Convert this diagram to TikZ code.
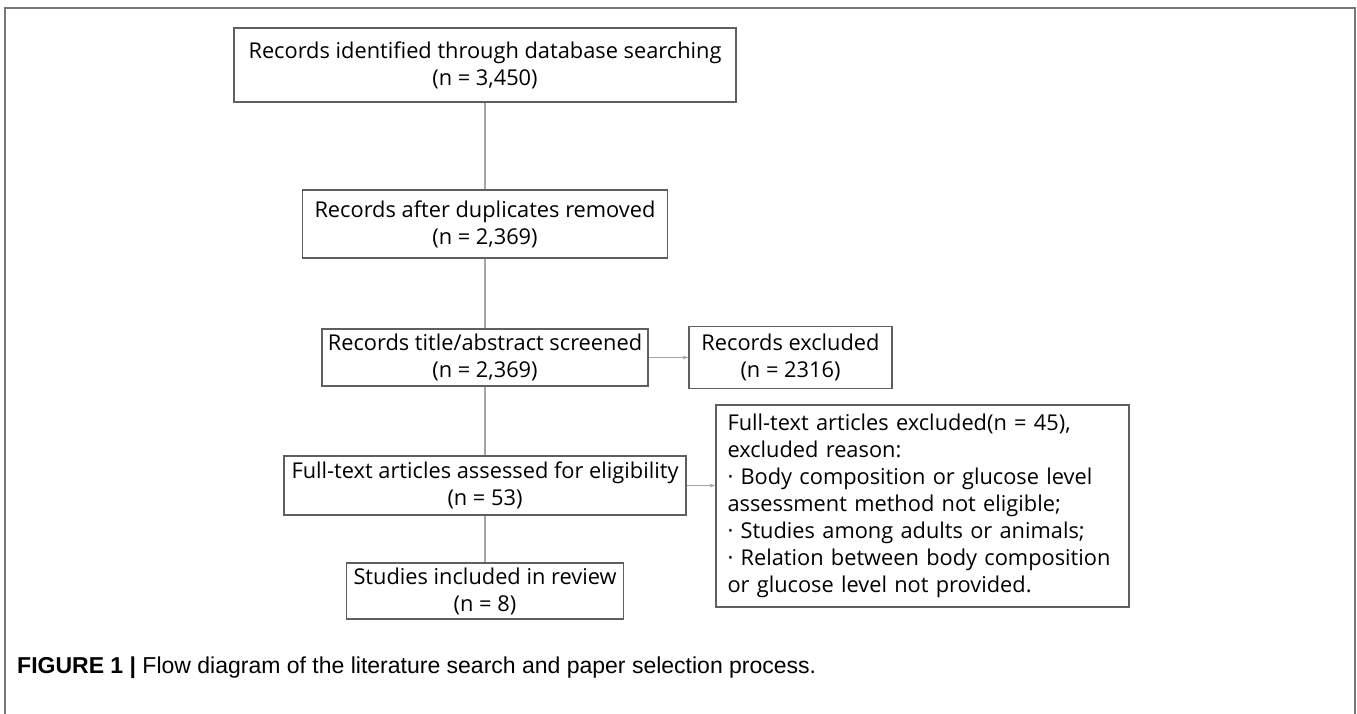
\documentclass[tikz,border=0pt]{standalone}
\usepackage{fontspec}
\setmainfont{Open Sans}
\newfontfamily\capfont{Liberation Sans}
\usetikzlibrary{positioning, arrows.meta}
\definecolor{boxline}{RGB}{95,95,95}
\definecolor{linkgray}{RGB}{165,165,165}
\definecolor{framegray}{RGB}{120,120,120}
\tikzset{
    flowbox/.style={rectangle, draw=boxline, line width=1.2pt, fill=white, align=center, inner sep=0pt, font=\fontsize{21.8}{27}\selectfont},
    notebox/.style={rectangle, draw=boxline, line width=1.2pt, fill=white, align=left, inner xsep=11.5pt, inner ysep=0pt, font=\fontsize{21.8}{27}\selectfont},
    link/.style={draw=linkgray, line width=1.3pt},
    arr/.style={-{Stealth[length=6pt, width=4pt]}, draw=linkgray, line width=1pt},
    frame/.style={draw=framegray, line width=1.2pt},
    captext/.style={anchor=west, inner sep=0pt, font=\capfont\fontsize{23}{26}\selectfont}
}

\begin{document}
\begin{tikzpicture}[x=1pt, y=-1pt]
    \useasboundingbox (0,0) rectangle (1357,714);
    \draw[frame] (5,714) -- (5,8) -- (1355,8) -- (1355,714);
    % main column
    \node[flowbox, minimum width=502, minimum height=74] (ident) at (485,65) {Records identified through database searching\\(n = 3,450)};
    \node[flowbox, minimum width=365, minimum height=68] (dupl) at (485,224) {Records after duplicates removed\\(n = 2,369)};
    \node[flowbox, minimum width=326, minimum height=57] (screen) at (485,357.5) {Records title/abstract screened\\(n = 2,369)};
    \node[flowbox, minimum width=402, minimum height=59] (elig) at (485,485.5) {Full-text articles assessed for eligibility\\(n = 53)};
    \node[flowbox, minimum width=277, minimum height=56] (incl) at (485,591) {Studies included in review\\(n = 8)};
    % exclusions
    \node[flowbox, minimum width=203, minimum height=62] (recex) at (790.5,357.5) {Records excluded\\(n = 2316)};
    \node[notebox, text width=390, minimum height=202] (fullex) at (922.5,506) {Full-text articles excluded(n = 45),\\excluded reason:\\· Body composition or glucose level\\assessment method not eligible;\\· Studies among adults or animals;\\· Relation between body composition\\or glucose level not provided.};
    \draw[link] (ident) -- (dupl);
    \draw[link] (dupl) -- (screen);
    \draw[link] (screen) -- (elig);
    \draw[link] (elig) -- (incl);
    \draw[arr] (screen) -- (recex);
    \draw[arr] (elig) -- (fullex.west |- elig);
    \node[captext] (caption) at (17,668) {{\bfseries FIGURE 1 |} Flow diagram of the literature search and paper selection process.};
\end{tikzpicture}
\end{document}
